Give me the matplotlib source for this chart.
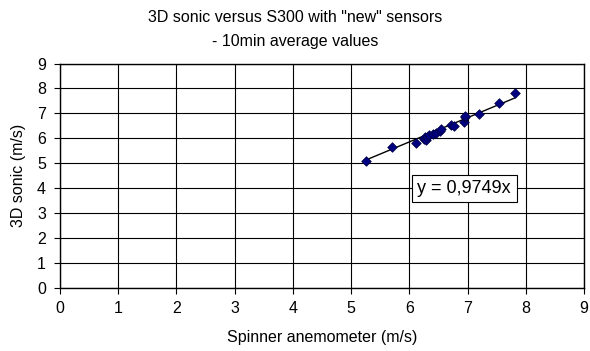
import matplotlib

matplotlib.use("Agg")
import matplotlib.pyplot as plt
import numpy as np

plt.rcParams["font.family"] = ["Liberation Sans", "DejaVu Sans"]

# spinner anemometer (m/s) vs 3D sonic (m/s), 10 min averages
spinner = [5.26, 5.70, 6.11, 6.25, 6.27, 6.29, 6.30, 6.33, 6.40, 6.46, 6.52, 6.55,
           6.72, 6.76, 6.94, 6.95, 6.96, 7.19, 7.54, 7.81]
sonic = [5.10, 5.63, 5.80, 5.98, 6.05, 5.93, 6.06, 6.14, 6.17, 6.21, 6.30, 6.37,
         6.53, 6.47, 6.64, 6.84, 6.91, 6.97, 7.40, 7.82]
slope = 0.9749

fig = plt.figure(figsize=(5.9, 3.51), dpi=100)
ax = fig.add_axes([60 / 590, 1 - 287.5 / 351, 524 / 590, 224 / 351])

ax.set_xlim(0, 9)
ax.set_ylim(0, 9)
ax.set_xticks(range(10))
ax.set_yticks(range(10))
ax.grid(True, color="black", linewidth=0.8)
ax.set_axisbelow(True)
for s in ax.spines.values():
    s.set_linewidth(1.0)
ax.tick_params(direction="out", length=4, width=0.8, labelsize=11.5, pad=6)

xs = np.array([min(spinner), max(spinner)])
ax.plot(xs, slope * xs, color="black", linewidth=1.0, zorder=3)
ax.scatter(spinner, sonic, marker="D", s=24, color="#000080", edgecolors="#000040",
           linewidths=0.5, zorder=4)

ax.text(6.14, 3.98, f"y = {slope:.4f}x".replace(".", ","), fontsize=13, va="center", ha="left",
        bbox=dict(boxstyle="square,pad=0.3", facecolor="white", edgecolor="black", linewidth=0.8),
        zorder=5)

ax.set_xlabel("Spinner anemometer (m/s)", fontsize=11.5, labelpad=10)
ax.set_ylabel("3D sonic (m/s)", fontsize=11.5, labelpad=8)
fig.text(0.5, 0.950, '3D sonic versus S300 with "new" sensors', ha="center", va="center", fontsize=11.5)
fig.text(0.5, 0.882, "- 10min average values", ha="center", va="center", fontsize=11.5)

fig.savefig("out.png", dpi=100)
